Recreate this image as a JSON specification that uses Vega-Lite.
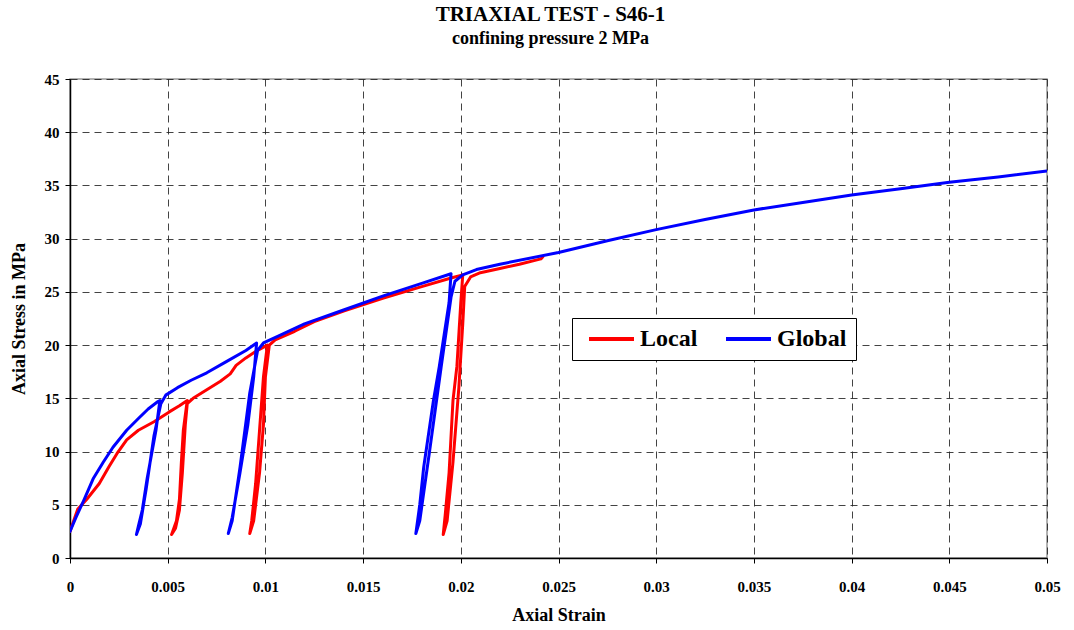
{
  "$schema": "https://vega.github.io/schema/vega-lite/v6.json",
  "width": 977,
  "height": 479,
  "autosize": "none",
  "padding": {"left": 70, "top": 79, "right": 27, "bottom": 72},
  "background": "white",
  "title": {
    "text": "TRIAXIAL TEST - S46-1",
    "subtitle": "confining pressure 2 MPa",
    "font": "Liberation Serif",
    "fontSize": 21,
    "fontWeight": "bold",
    "subtitleFont": "Liberation Serif",
    "subtitleFontSize": 18,
    "subtitleFontWeight": "bold",
    "subtitleColor": "black",
    "subtitlePadding": 5,
    "anchor": "middle",
    "dx": -8,
    "offset": 24,
    "color": "black"
  },
  "config": {
    "view": {"stroke": "#999", "strokeWidth": 1.5},
    "axis": {
      "labelFont": "Liberation Serif",
      "labelFontSize": 15,
      "labelFontWeight": "bold",
      "labelColor": "black",
      "titleFont": "Liberation Serif",
      "titleFontSize": 18,
      "titleFontWeight": "bold",
      "titleColor": "black",
      "domainColor": "black",
      "domainWidth": 1.5,
      "tickColor": "black",
      "tickSize": 5,
      "gridColor": "#222",
      "gridDash": [7, 5],
      "gridWidth": 1,
      "gridOpacity": 0.85
    }
  },
  "data": {
    "values": [
      {"series": "Local", "i": 0, "strain": 0, "stress": 2.5},
      {"series": "Local", "i": 1, "strain": 0.0004, "stress": 4.6},
      {"series": "Local", "i": 2, "strain": 0.00085, "stress": 5.5},
      {"series": "Local", "i": 3, "strain": 0.0015, "stress": 7.0},
      {"series": "Local", "i": 4, "strain": 0.002, "stress": 8.6},
      {"series": "Local", "i": 5, "strain": 0.0024, "stress": 9.8},
      {"series": "Local", "i": 6, "strain": 0.0029, "stress": 11.1},
      {"series": "Local", "i": 7, "strain": 0.0035, "stress": 12.0},
      {"series": "Local", "i": 8, "strain": 0.0043, "stress": 12.8},
      {"series": "Local", "i": 9, "strain": 0.0051, "stress": 13.75},
      {"series": "Local", "i": 10, "strain": 0.0056, "stress": 14.3},
      {"series": "Local", "i": 11, "strain": 0.006, "stress": 14.8},
      {"series": "Local", "i": 12, "strain": 0.0058, "stress": 12.0},
      {"series": "Local", "i": 13, "strain": 0.0057, "stress": 9.0},
      {"series": "Local", "i": 14, "strain": 0.0056, "stress": 5.5},
      {"series": "Local", "i": 15, "strain": 0.00545, "stress": 3.5},
      {"series": "Local", "i": 16, "strain": 0.0052, "stress": 2.2},
      {"series": "Local", "i": 17, "strain": 0.0054, "stress": 2.8},
      {"series": "Local", "i": 18, "strain": 0.0056, "stress": 4.5},
      {"series": "Local", "i": 19, "strain": 0.00575, "stress": 8.0},
      {"series": "Local", "i": 20, "strain": 0.0059, "stress": 12.5},
      {"series": "Local", "i": 21, "strain": 0.006, "stress": 14.5},
      {"series": "Local", "i": 22, "strain": 0.0063, "stress": 15.0},
      {"series": "Local", "i": 23, "strain": 0.007, "stress": 15.8},
      {"series": "Local", "i": 24, "strain": 0.0077, "stress": 16.6},
      {"series": "Local", "i": 25, "strain": 0.0082, "stress": 17.3},
      {"series": "Local", "i": 26, "strain": 0.0085, "stress": 18.1},
      {"series": "Local", "i": 27, "strain": 0.009, "stress": 18.8},
      {"series": "Local", "i": 28, "strain": 0.0095, "stress": 19.4},
      {"series": "Local", "i": 29, "strain": 0.0101, "stress": 20.0},
      {"series": "Local", "i": 30, "strain": 0.0099, "stress": 17.0},
      {"series": "Local", "i": 31, "strain": 0.0097, "stress": 12.0},
      {"series": "Local", "i": 32, "strain": 0.0095, "stress": 7.0},
      {"series": "Local", "i": 33, "strain": 0.0093, "stress": 3.5},
      {"series": "Local", "i": 34, "strain": 0.0092, "stress": 2.3},
      {"series": "Local", "i": 35, "strain": 0.0094, "stress": 3.5},
      {"series": "Local", "i": 36, "strain": 0.0097, "stress": 8.0},
      {"series": "Local", "i": 37, "strain": 0.0099, "stress": 12.5},
      {"series": "Local", "i": 38, "strain": 0.01, "stress": 17.0},
      {"series": "Local", "i": 39, "strain": 0.0102, "stress": 20.0},
      {"series": "Local", "i": 40, "strain": 0.0105, "stress": 20.5},
      {"series": "Local", "i": 41, "strain": 0.0115, "stress": 21.3},
      {"series": "Local", "i": 42, "strain": 0.0125, "stress": 22.2},
      {"series": "Local", "i": 43, "strain": 0.014, "stress": 23.2},
      {"series": "Local", "i": 44, "strain": 0.016, "stress": 24.4},
      {"series": "Local", "i": 45, "strain": 0.018, "stress": 25.5},
      {"series": "Local", "i": 46, "strain": 0.0195, "stress": 26.3},
      {"series": "Local", "i": 47, "strain": 0.0201, "stress": 26.6},
      {"series": "Local", "i": 48, "strain": 0.02, "stress": 24.0},
      {"series": "Local", "i": 49, "strain": 0.0198, "stress": 18.0},
      {"series": "Local", "i": 50, "strain": 0.0196, "stress": 14.8},
      {"series": "Local", "i": 51, "strain": 0.0194, "stress": 8.0},
      {"series": "Local", "i": 52, "strain": 0.0192, "stress": 4.0},
      {"series": "Local", "i": 53, "strain": 0.0191, "stress": 2.2},
      {"series": "Local", "i": 54, "strain": 0.0193, "stress": 3.5},
      {"series": "Local", "i": 55, "strain": 0.0196, "stress": 9.0},
      {"series": "Local", "i": 56, "strain": 0.0199, "stress": 16.0},
      {"series": "Local", "i": 57, "strain": 0.0201, "stress": 22.0},
      {"series": "Local", "i": 58, "strain": 0.0202, "stress": 25.5},
      {"series": "Local", "i": 59, "strain": 0.0205, "stress": 26.4},
      {"series": "Local", "i": 60, "strain": 0.021, "stress": 26.8},
      {"series": "Local", "i": 61, "strain": 0.022, "stress": 27.2},
      {"series": "Local", "i": 62, "strain": 0.023, "stress": 27.6},
      {"series": "Local", "i": 63, "strain": 0.0241, "stress": 28.1},
      {"series": "Local", "i": 64, "strain": 0.0242, "stress": 28.3},
      {"series": "Global", "i": 0, "strain": 0, "stress": 2.5},
      {"series": "Global", "i": 1, "strain": 0.0003, "stress": 3.8},
      {"series": "Global", "i": 2, "strain": 0.0007, "stress": 5.4},
      {"series": "Global", "i": 3, "strain": 0.0012, "stress": 7.5},
      {"series": "Global", "i": 4, "strain": 0.0017, "stress": 9.0},
      {"series": "Global", "i": 5, "strain": 0.0022, "stress": 10.4},
      {"series": "Global", "i": 6, "strain": 0.0029, "stress": 12.0},
      {"series": "Global", "i": 7, "strain": 0.0035, "stress": 13.1},
      {"series": "Global", "i": 8, "strain": 0.004, "stress": 14.0},
      {"series": "Global", "i": 9, "strain": 0.0045, "stress": 14.7},
      {"series": "Global", "i": 10, "strain": 0.0046, "stress": 14.8},
      {"series": "Global", "i": 11, "strain": 0.0044, "stress": 12.0},
      {"series": "Global", "i": 12, "strain": 0.00395, "stress": 7.5},
      {"series": "Global", "i": 13, "strain": 0.0037, "stress": 4.5},
      {"series": "Global", "i": 14, "strain": 0.0035, "stress": 3.0},
      {"series": "Global", "i": 15, "strain": 0.0034, "stress": 2.2},
      {"series": "Global", "i": 16, "strain": 0.0036, "stress": 3.2},
      {"series": "Global", "i": 17, "strain": 0.0039, "stress": 6.5},
      {"series": "Global", "i": 18, "strain": 0.0043, "stress": 11.5},
      {"series": "Global", "i": 19, "strain": 0.00465, "stress": 14.5},
      {"series": "Global", "i": 20, "strain": 0.0049, "stress": 15.3},
      {"series": "Global", "i": 21, "strain": 0.0055, "stress": 16.0},
      {"series": "Global", "i": 22, "strain": 0.0062, "stress": 16.7},
      {"series": "Global", "i": 23, "strain": 0.007, "stress": 17.4},
      {"series": "Global", "i": 24, "strain": 0.008, "stress": 18.45},
      {"series": "Global", "i": 25, "strain": 0.009, "stress": 19.5},
      {"series": "Global", "i": 26, "strain": 0.00955, "stress": 20.2},
      {"series": "Global", "i": 27, "strain": 0.0094, "stress": 17.0},
      {"series": "Global", "i": 28, "strain": 0.0091, "stress": 12.5},
      {"series": "Global", "i": 29, "strain": 0.0087, "stress": 8.0},
      {"series": "Global", "i": 30, "strain": 0.0083, "stress": 3.8},
      {"series": "Global", "i": 31, "strain": 0.0081, "stress": 2.3},
      {"series": "Global", "i": 32, "strain": 0.0083, "stress": 3.5},
      {"series": "Global", "i": 33, "strain": 0.0087, "stress": 8.5},
      {"series": "Global", "i": 34, "strain": 0.0092, "stress": 15.5},
      {"series": "Global", "i": 35, "strain": 0.0096, "stress": 19.5},
      {"series": "Global", "i": 36, "strain": 0.0099, "stress": 20.2},
      {"series": "Global", "i": 37, "strain": 0.0106, "stress": 20.8},
      {"series": "Global", "i": 38, "strain": 0.012, "stress": 22.0},
      {"series": "Global", "i": 39, "strain": 0.014, "stress": 23.3},
      {"series": "Global", "i": 40, "strain": 0.016, "stress": 24.6},
      {"series": "Global", "i": 41, "strain": 0.018, "stress": 25.8},
      {"series": "Global", "i": 42, "strain": 0.0195, "stress": 26.7},
      {"series": "Global", "i": 43, "strain": 0.0194, "stress": 24.0},
      {"series": "Global", "i": 44, "strain": 0.0189, "stress": 18.0},
      {"series": "Global", "i": 45, "strain": 0.0186, "stress": 14.8},
      {"series": "Global", "i": 46, "strain": 0.0181, "stress": 8.5},
      {"series": "Global", "i": 47, "strain": 0.0179, "stress": 5.0},
      {"series": "Global", "i": 48, "strain": 0.0177, "stress": 2.3},
      {"series": "Global", "i": 49, "strain": 0.0179, "stress": 3.5},
      {"series": "Global", "i": 50, "strain": 0.0184, "stress": 10.0},
      {"series": "Global", "i": 51, "strain": 0.019, "stress": 18.0},
      {"series": "Global", "i": 52, "strain": 0.0195, "stress": 24.5},
      {"series": "Global", "i": 53, "strain": 0.0197, "stress": 26.0},
      {"series": "Global", "i": 54, "strain": 0.0201, "stress": 26.6},
      {"series": "Global", "i": 55, "strain": 0.0208, "stress": 27.1},
      {"series": "Global", "i": 56, "strain": 0.022, "stress": 27.6},
      {"series": "Global", "i": 57, "strain": 0.025, "stress": 28.7},
      {"series": "Global", "i": 58, "strain": 0.0275, "stress": 29.8},
      {"series": "Global", "i": 59, "strain": 0.03, "stress": 30.85},
      {"series": "Global", "i": 60, "strain": 0.0325, "stress": 31.8},
      {"series": "Global", "i": 61, "strain": 0.035, "stress": 32.7},
      {"series": "Global", "i": 62, "strain": 0.0375, "stress": 33.4},
      {"series": "Global", "i": 63, "strain": 0.04, "stress": 34.1},
      {"series": "Global", "i": 64, "strain": 0.0425, "stress": 34.7},
      {"series": "Global", "i": 65, "strain": 0.045, "stress": 35.3},
      {"series": "Global", "i": 66, "strain": 0.0475, "stress": 35.8},
      {"series": "Global", "i": 67, "strain": 0.05, "stress": 36.35}
    ]
  },
  "mark": {"type": "line", "strokeWidth": 3, "strokeCap": "round", "strokeJoin": "round", "clip": true},
  "encoding": {
    "x": {
      "field": "strain",
      "type": "quantitative",
      "title": "Axial Strain",
      "scale": {"domain": [0, 0.05], "nice": false, "zero": true},
      "axis": {
        "values": [0, 0.005, 0.01, 0.015, 0.02, 0.025, 0.03, 0.035, 0.04, 0.045, 0.05],
        "format": "~g",
        "labelPadding": 16,
        "titlePadding": 12,
        "labelFlush": false
      }
    },
    "y": {
      "field": "stress",
      "type": "quantitative",
      "title": "Axial Stress in MPa",
      "scale": {"domain": [0, 45], "nice": false},
      "axis": {
        "values": [0, 5, 10, 15, 20, 25, 30, 35, 40, 45],
        "labelPadding": 6,
        "titlePadding": 16
      }
    },
    "color": {
      "field": "series",
      "type": "nominal",
      "scale": {"domain": ["Local", "Global"], "range": ["#FF0000", "#0000FF"]},
      "legend": {
        "title": null,
        "orient": "none",
        "legendX": 502,
        "legendY": 239,
        "direction": "horizontal",
        "strokeColor": "black",
        "fillColor": "white",
        "padding": 9,
        "symbolType": "M-0.5,0H5.125",
        "symbolSize": 256,
        "symbolStrokeWidth": 4,
        "symbolFillColor": "transparent",
        "labelFont": "Liberation Serif",
        "labelFontSize": 24,
        "labelFontWeight": "bold",
        "labelColor": "black",
        "labelOffset": 35,
        "columnPadding": 20
      }
    },
    "order": {"field": "i", "type": "quantitative"}
  }
}
